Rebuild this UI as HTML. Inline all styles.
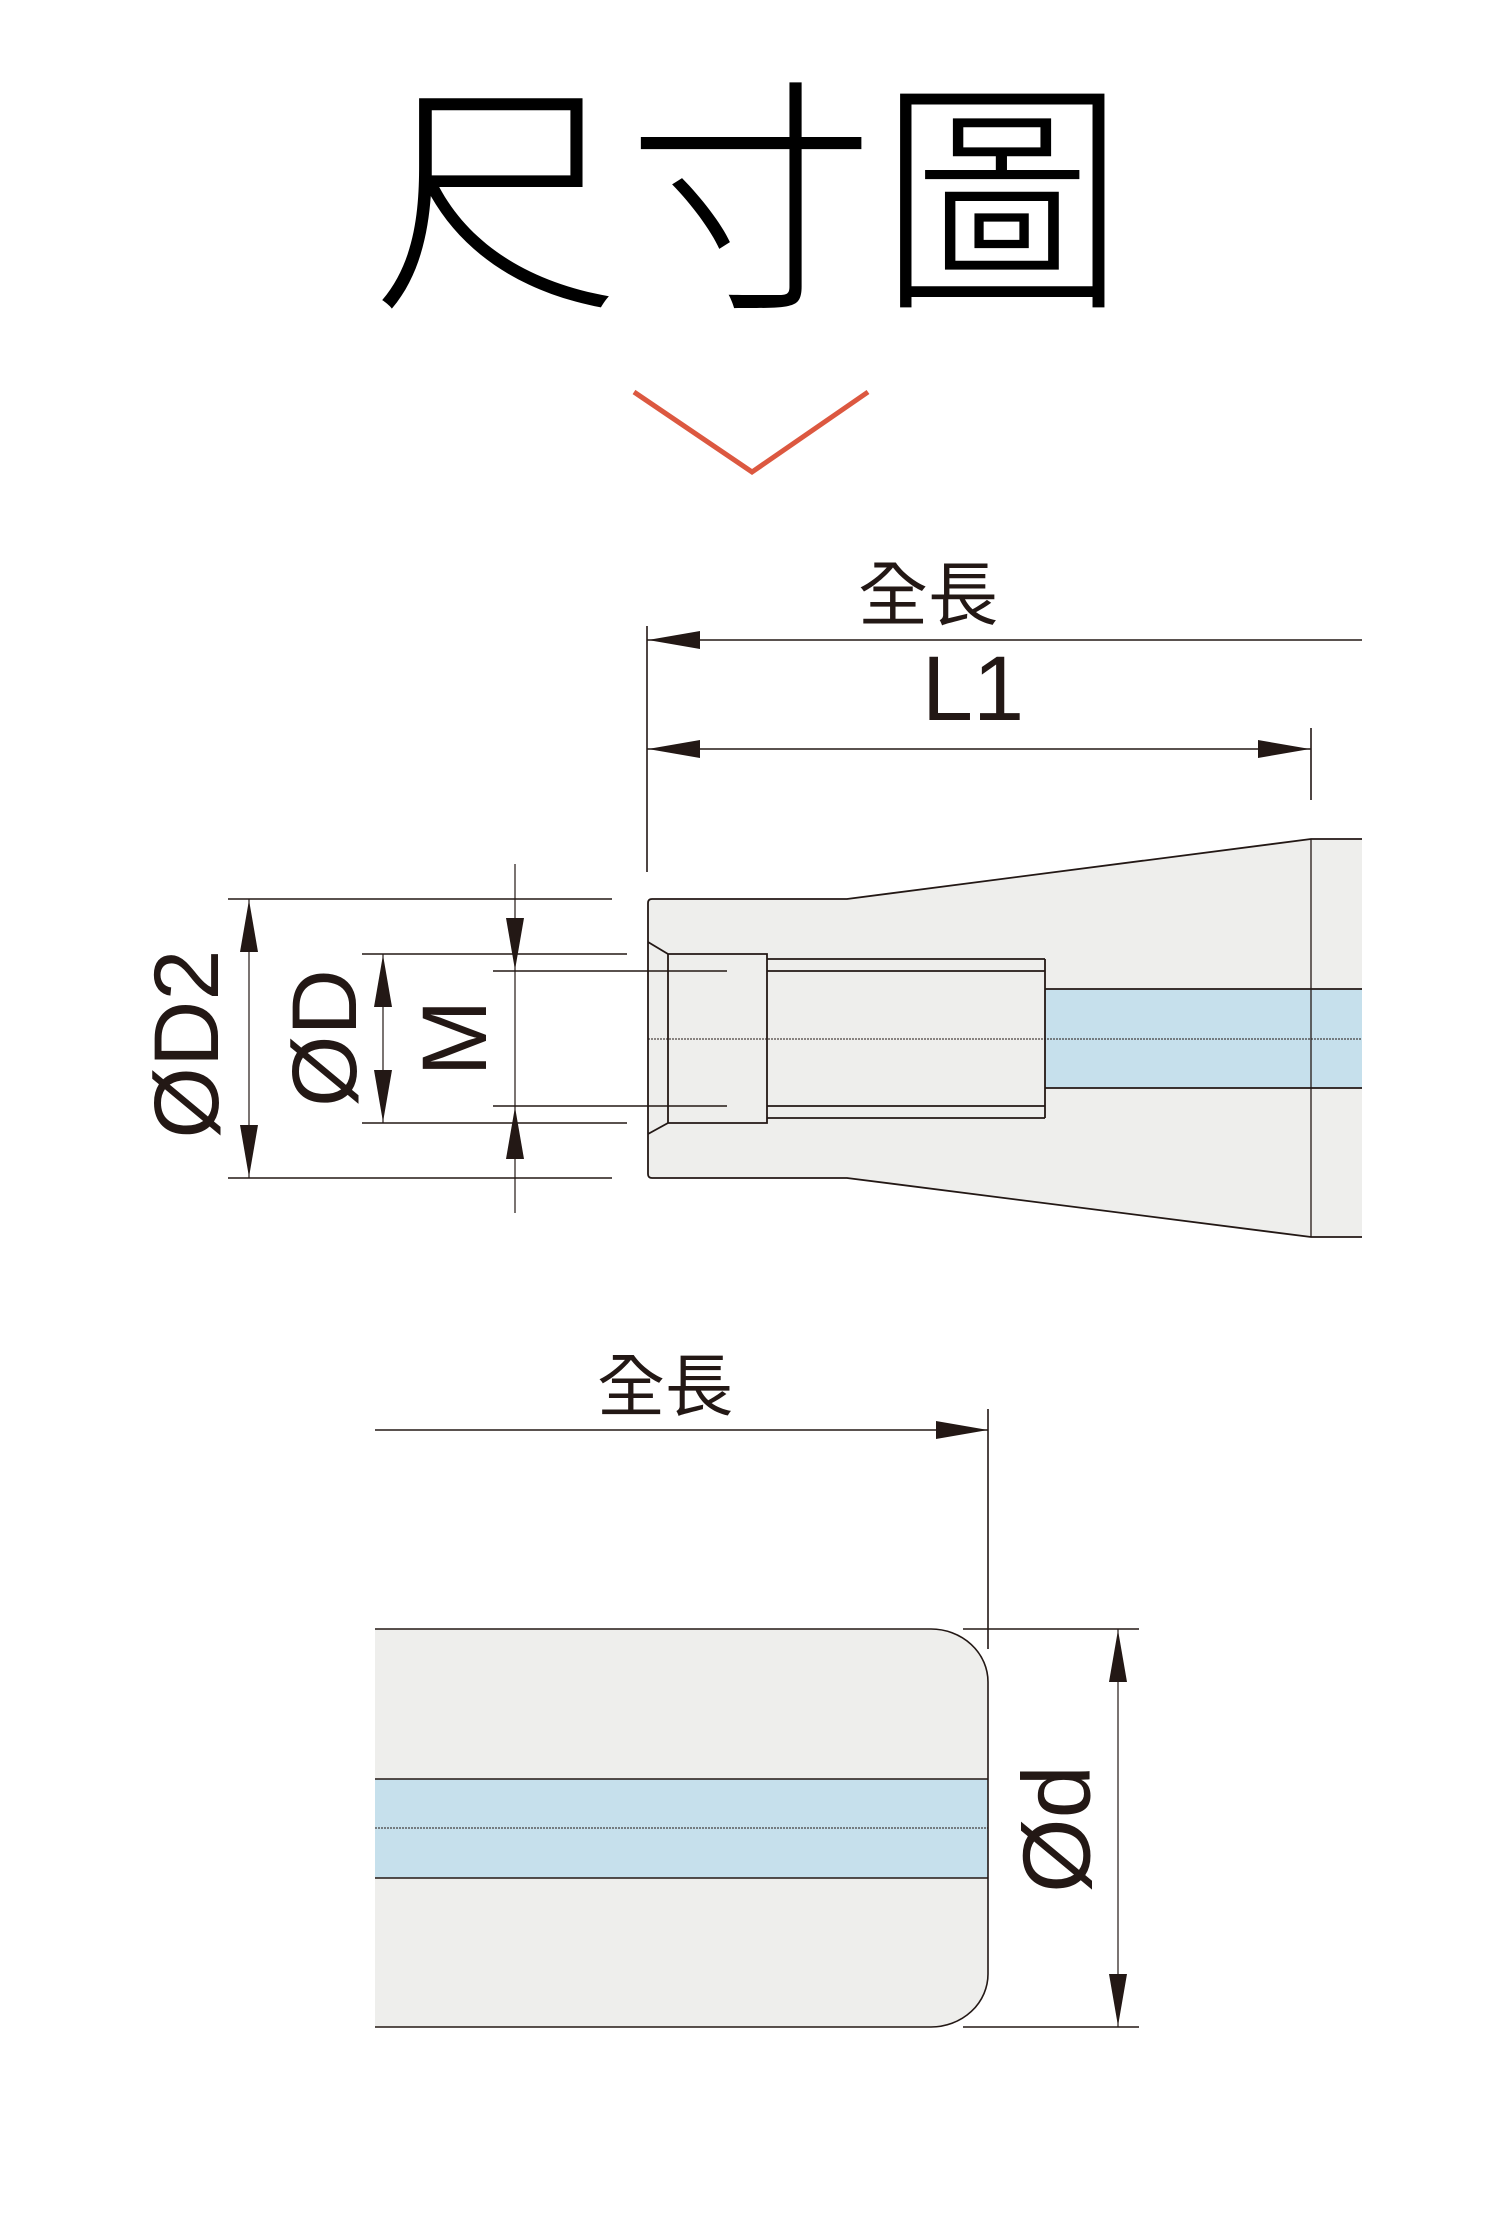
<!DOCTYPE html>
<html><head><meta charset="utf-8"><style>
html,body{margin:0;padding:0;background:#fff;}
svg{display:block;}
</style></head><body>
<svg width="1500" height="2220" viewBox="0 0 1500 2220" xmlns="http://www.w3.org/2000/svg">
<g fill="#000" font-family="'Noto Sans CJK TC',sans-serif" font-weight="300" font-size="248" text-anchor="middle" dominant-baseline="central">
<text x="496" y="182">尺</text>
<text x="751" y="182">寸</text>
<text x="1002" y="182">圖</text>
</g>
<polyline points="634,392 752,472 868,392" fill="none" stroke="#dc5840" stroke-width="5"/>

<g fill="#231815" font-family="'Liberation Sans','Noto Sans CJK TC',sans-serif">
<text x="928" y="590" font-size="70" text-anchor="middle" dominant-baseline="central" font-family="'Noto Sans CJK TC',sans-serif">全長</text>
<text x="973" y="720" font-size="92" text-anchor="middle">L1</text>
</g>

<g stroke="#231815" stroke-width="1.6" fill="none">
<line x1="647" y1="626" x2="647" y2="872"/>
<line x1="647" y1="640" x2="1362" y2="640"/>
<line x1="647" y1="749" x2="1311" y2="749"/>
<line x1="1311" y1="728" x2="1311" y2="800"/>
</g>
<g fill="#231815">
<polygon points="648,640 700,631 700,649"/>
<polygon points="648,749 700,740 700,758"/>
<polygon points="1310,749 1258,740 1258,758"/>
</g>

<path d="M652,899 L847,899 L1311,839 L1362,839 L1362,1237 L1311,1237 L847,1178 L652,1178 Q648,1178 648,1174 L648,903 Q648,899 652,899 Z" fill="#eeeeec" stroke="none"/>
<rect x="1045" y="989" width="317" height="99" fill="#c6e0ec"/>
<g stroke="#231815" stroke-width="1.8" fill="none">
<path d="M1362,839 L1311,839 L847,899 L652,899 Q648,899 648,903 L648,1174 Q648,1178 652,1178 L847,1178 L1311,1237 L1362,1237"/>
<line x1="1311" y1="839" x2="1311" y2="1237" stroke-width="1.3"/>
<path d="M648,942 L668,954 L767,954 L767,1123 L668,1123 L648,1134"/>
<line x1="668" y1="954" x2="668" y2="1123"/>
<line x1="767" y1="959" x2="1045" y2="959"/>
<line x1="767" y1="971" x2="1045" y2="971"/>
<line x1="767" y1="1106" x2="1045" y2="1106"/>
<line x1="767" y1="1118" x2="1045" y2="1118"/>
<line x1="1045" y1="959" x2="1045" y2="1118"/>
<line x1="1045" y1="989" x2="1362" y2="989"/>
<line x1="1045" y1="1088" x2="1362" y2="1088"/>
<line x1="648" y1="1039" x2="1362" y2="1039" stroke-width="1" stroke-dasharray="2,1"/>
</g>

<g stroke="#231815" stroke-width="1.6" fill="none">
<line x1="228" y1="899" x2="612" y2="899"/>
<line x1="228" y1="1178" x2="612" y2="1178"/>
<line x1="249" y1="899" x2="249" y2="1178" stroke-width="1.2"/>
<line x1="362" y1="954" x2="627" y2="954"/>
<line x1="362" y1="1123" x2="627" y2="1123"/>
<line x1="383" y1="954" x2="383" y2="1123" stroke-width="1.2"/>
<line x1="493" y1="971" x2="727" y2="971"/>
<line x1="493" y1="1106" x2="727" y2="1106"/>
<line x1="515" y1="864" x2="515" y2="1213" stroke-width="1.2"/>
</g>
<g fill="#231815">
<polygon points="249,900 240,952 258,952"/>
<polygon points="249,1177 240,1125 258,1125"/>
<polygon points="383,955 374,1007 392,1007"/>
<polygon points="383,1122 374,1070 392,1070"/>
<polygon points="515,970 506,918 524,918"/>
<polygon points="515,1107 506,1159 524,1159"/>
</g>
<g fill="#231815" font-family="'Liberation Sans',sans-serif" font-size="92" text-anchor="middle" dominant-baseline="central">
<text transform="translate(187,1044) rotate(-90)">ØD2</text>
<text transform="translate(325,1038) rotate(-90)">ØD</text>
<text transform="translate(455,1038) rotate(-90)">M</text>
</g>

<text x="665" y="1381" font-size="68" text-anchor="middle" dominant-baseline="central" fill="#231815" font-family="'Noto Sans CJK TC',sans-serif">全長</text>
<g stroke="#231815" stroke-width="1.6" fill="none">
<line x1="375" y1="1430" x2="988" y2="1430"/>
<line x1="988" y1="1409" x2="988" y2="1649"/>
</g>
<polygon points="988,1430 936,1421 936,1439" fill="#231815"/>

<path d="M375,1629 L931,1629 A57,53 0 0 1 988,1682 L988,1974 A57,53 0 0 1 931,2027 L375,2027 Z" fill="#eeeeec"/>
<rect x="375" y="1779" width="613" height="99" fill="#c6e0ec"/>
<g stroke="#231815" stroke-width="1.6" fill="none">
<path d="M375,1629 L931,1629 A57,53 0 0 1 988,1682 L988,1974 A57,53 0 0 1 931,2027 L375,2027"/>
<line x1="375" y1="1779" x2="988" y2="1779"/>
<line x1="375" y1="1878" x2="988" y2="1878"/>
<line x1="375" y1="1828" x2="988" y2="1828" stroke-width="1" stroke-dasharray="2,1"/>
<line x1="963" y1="1629" x2="1139" y2="1629"/>
<line x1="963" y1="2027" x2="1139" y2="2027"/>
<line x1="1118" y1="1629" x2="1118" y2="2027" stroke-width="1.2"/>
</g>
<g fill="#231815">
<polygon points="1118,1630 1109,1682 1127,1682"/>
<polygon points="1118,2026 1109,1974 1127,1974"/>
</g>
<text transform="translate(1057,1829) rotate(-90)" font-family="'Liberation Sans',sans-serif" font-size="96" text-anchor="middle" dominant-baseline="central" fill="#231815">Ød</text>
</svg>
</body></html>
